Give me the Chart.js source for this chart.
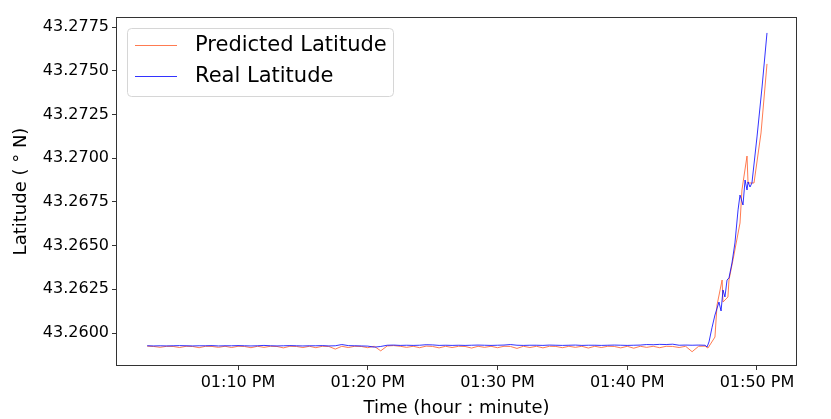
<!DOCTYPE html>
<html>
<head>
<meta charset="utf-8">
<script src="https://cdn.jsdelivr.net/npm/chart.js@4/dist/chart.umd.min.js"></script>
<style>
  html, body { margin: 0; padding: 0; background: #fff; }
  #wrap { width: 831px; height: 419px; }
</style>
</head>
<body>
<div id="wrap"><canvas id="c" width="831" height="419"></canvas></div>
<script>
// Time in minutes after 01:00 PM (flat section, shared by both series)
const flatMinutes = [3,3.5,4,4.5,5,5.5,6,6.5,7,7.5,8,8.5,9,9.5,10,10.5,11,11.5,12,12.5,13,13.5,14,14.5,15,15.5,16,16.5,17,17.5,18,18.5,19,19.5,20,20.5,21,21.5,22,22.5,23,23.5,24,24.5,25,25.5,26,26.5,27,27.5,28,28.5,29,29.5,30,30.5,31,31.5,32,32.5,33,33.5,34,34.5,35,35.5,36,36.5,37,37.5,38,38.5,39,39.5,40,40.5,41,41.5,42,42.5,43,43.5,44,44.5,45,45.5,46];

const realFlatLat = [43.25927,43.25926,43.25927,43.25926,43.25927,43.25928,43.25927,43.25926,43.25927,43.25927,43.25928,43.25926,43.25927,43.25927,43.25928,43.25927,43.25926,43.25927,43.25929,43.25927,43.25926,43.25927,43.25928,43.25927,43.25926,43.25927,43.25927,43.25928,43.25926,43.25927,43.25934,43.25928,43.25927,43.25926,43.25925,43.25919,43.25923,43.25930,43.25931,43.25929,43.25930,43.25929,43.25930,43.25933,43.25932,43.25929,43.25930,43.25929,43.25930,43.25929,43.25930,43.25931,43.25930,43.25929,43.25930,43.25931,43.25934,43.25930,43.25929,43.25930,43.25930,43.25929,43.25931,43.25930,43.25929,43.25930,43.25931,43.25929,43.25930,43.25930,43.25929,43.25930,43.25931,43.25930,43.25929,43.25930,43.25931,43.25934,43.25933,43.25935,43.25934,43.25936,43.25930,43.25931,43.25930,43.25931,43.25930];

const predFlatLat = [43.25925,43.25923,43.25918,43.25924,43.25923,43.25917,43.25924,43.25923,43.25916,43.25924,43.25923,43.25918,43.25924,43.25917,43.25924,43.25923,43.25916,43.25924,43.25918,43.25924,43.25923,43.25915,43.25924,43.25923,43.25917,43.25924,43.25916,43.25924,43.25923,43.25908,43.25924,43.25917,43.25924,43.25923,43.25916,43.25924,43.25898,43.25926,43.25928,43.25924,43.25918,43.25924,43.25916,43.25925,43.25923,43.25915,43.25924,43.25917,43.25924,43.25923,43.25914,43.25924,43.25918,43.25924,43.25916,43.25924,43.25923,43.25912,43.25924,43.25917,43.25924,43.25915,43.25924,43.25923,43.25916,43.25924,43.25918,43.25924,43.25914,43.25924,43.25917,43.25924,43.25923,43.25915,43.25924,43.25913,43.25924,43.25918,43.25924,43.25916,43.25924,43.25923,43.25917,43.25924,43.25893,43.25924,43.25925];

// Rise section (after 01:46 PM)
const realRiseMinutes = [46.15,46.30,46.53,46.76,47.07,47.23,47.38,47.53,47.69,47.84,48.07,48.30,48.54,48.69,48.92,49.08,49.23,49.31,49.46,49.61,50.00,50.39,50.77];
const realRiseLat = [43.25920,43.25949,43.26030,43.26103,43.26177,43.26126,43.26246,43.26206,43.26303,43.26315,43.26400,43.26515,43.26704,43.26789,43.26732,43.26875,43.26818,43.26864,43.26835,43.26858,43.27121,43.27407,43.27716];

const predRiseMinutes = [46.22,46.76,46.92,47.31,47.38,47.76,47.84,48.15,48.69,48.84,49.23,49.31,49.77,50.31,50.77];
const predRiseLat = [43.25914,43.25977,43.26160,43.26303,43.26177,43.26206,43.26303,43.26418,43.26629,43.26818,43.27012,43.26858,43.26858,43.27144,43.27539];

const seriesNames = ['Predicted Latitude', 'Real Latitude'];
const xTickValues = [10, 20, 30, 40, 50];
const xTickLabels = ['01:10 PM', '01:20 PM', '01:30 PM', '01:40 PM', '01:50 PM'];
const yTickValues = [43.2600, 43.2625, 43.2650, 43.2675, 43.2700, 43.2725, 43.2750, 43.2775];

const toPoints = (xs, ys) => xs.map((x, i) => ({ x: x, y: ys[i] }));
const predData = toPoints(flatMinutes, predFlatLat).concat(toPoints(predRiseMinutes, predRiseLat));
const realData = toPoints(flatMinutes, realFlatLat).concat(toPoints(realRiseMinutes, realRiseLat));

const PRED_COLOR = 'rgba(255,100,50,0.85)';
const REAL_COLOR = 'rgba(0,0,255,0.8)';
const FONT = 'DejaVu Sans';

const framePlugin = {
  id: 'frame',
  afterDatasetsDraw(chart) {
    const { ctx, chartArea: a } = chart;
    ctx.save();
    ctx.strokeStyle = '#333';
    ctx.lineWidth = 1;
    ctx.strokeRect(Math.round(a.left) + 0.5, Math.round(a.top) + 0.5,
                   Math.round(a.right - a.left) - 1, Math.round(a.bottom - a.top) - 1);
    // legend
    const lx = a.left + 11, ly = a.top + 11, lw = 266, lh = 68;
    ctx.beginPath();
    ctx.roundRect(lx + 0.5, ly + 0.5, lw, lh, 4);
    ctx.fillStyle = 'rgba(255,255,255,0.8)';
    ctx.fill();
    ctx.strokeStyle = '#d6d6d6';
    ctx.stroke();
    const colors = [PRED_COLOR, REAL_COLOR];
    ctx.font = '21px "' + FONT + '"';
    ctx.textBaseline = 'middle';
    ctx.textAlign = 'left';
    seriesNames.forEach((name, i) => {
      const y = ly + 17 + i * 31;
      ctx.beginPath();
      ctx.moveTo(lx + 8, y + 0.5);
      ctx.lineTo(lx + 50, y + 0.5);
      ctx.strokeStyle = colors[i];
      ctx.lineWidth = 1;
      ctx.stroke();
      ctx.fillStyle = '#000';
      ctx.fillText(name, lx + 68, y + 1);
    });
    ctx.restore();
  }
};

new Chart(document.getElementById('c'), {
  type: 'line',
  data: {
    datasets: [
      { label: seriesNames[0], data: predData, borderColor: PRED_COLOR, borderWidth: 1, pointRadius: 0, tension: 0, fill: false, order: 1 },
      { label: seriesNames[1], data: realData, borderColor: REAL_COLOR, borderWidth: 1, pointRadius: 0, tension: 0, fill: false, order: 0 }
    ]
  },
  options: {
    responsive: false,
    animation: false,
    parsing: true,
    layout: { padding: { left: 0, right: 34, top: 17, bottom: 0 } },
    plugins: { legend: { display: false }, tooltip: { enabled: false } },
    scales: {
      x: {
        type: 'linear',
        min: 0.597,
        max: 53.083,
        afterBuildTicks(scale) { scale.ticks = xTickValues.map(v => ({ value: v })); },
        afterFit(scale) { scale.height = 53; },
        ticks: {
          autoSkip: false, maxRotation: 0, padding: 3,
          color: '#000', font: { family: FONT, size: 16 },
          callback(v) { const i = xTickValues.indexOf(v); return i >= 0 ? xTickLabels[i] : ''; }
        },
        grid: { display: true, drawOnChartArea: false, drawTicks: true, tickLength: 4, color: '#333' },
        border: { display: false },
        title: { display: true, text: 'Time (hour : minute)', color: '#000', font: { family: FONT, size: 18 }, padding: { top: 2, bottom: 0 } }
      },
      y: {
        type: 'linear',
        min: 43.258113,
        max: 43.278072,
        afterBuildTicks(scale) { scale.ticks = yTickValues.map(v => ({ value: v })); },
        afterFit(scale) { scale.width = 116; },
        ticks: {
          padding: 3, color: '#000', font: { family: FONT, size: 16 },
          callback(v) { return Number(v).toFixed(4); }
        },
        grid: { display: true, drawOnChartArea: false, drawTicks: true, tickLength: 4, color: '#333' },
        border: { display: false },
        title: { display: true, text: 'Latitude ( ° N)', color: '#000', font: { family: FONT, size: 18 }, padding: { top: 11, bottom: 0 } }
      }
    }
  },
  plugins: [framePlugin]
});
</script>
</body>
</html>
